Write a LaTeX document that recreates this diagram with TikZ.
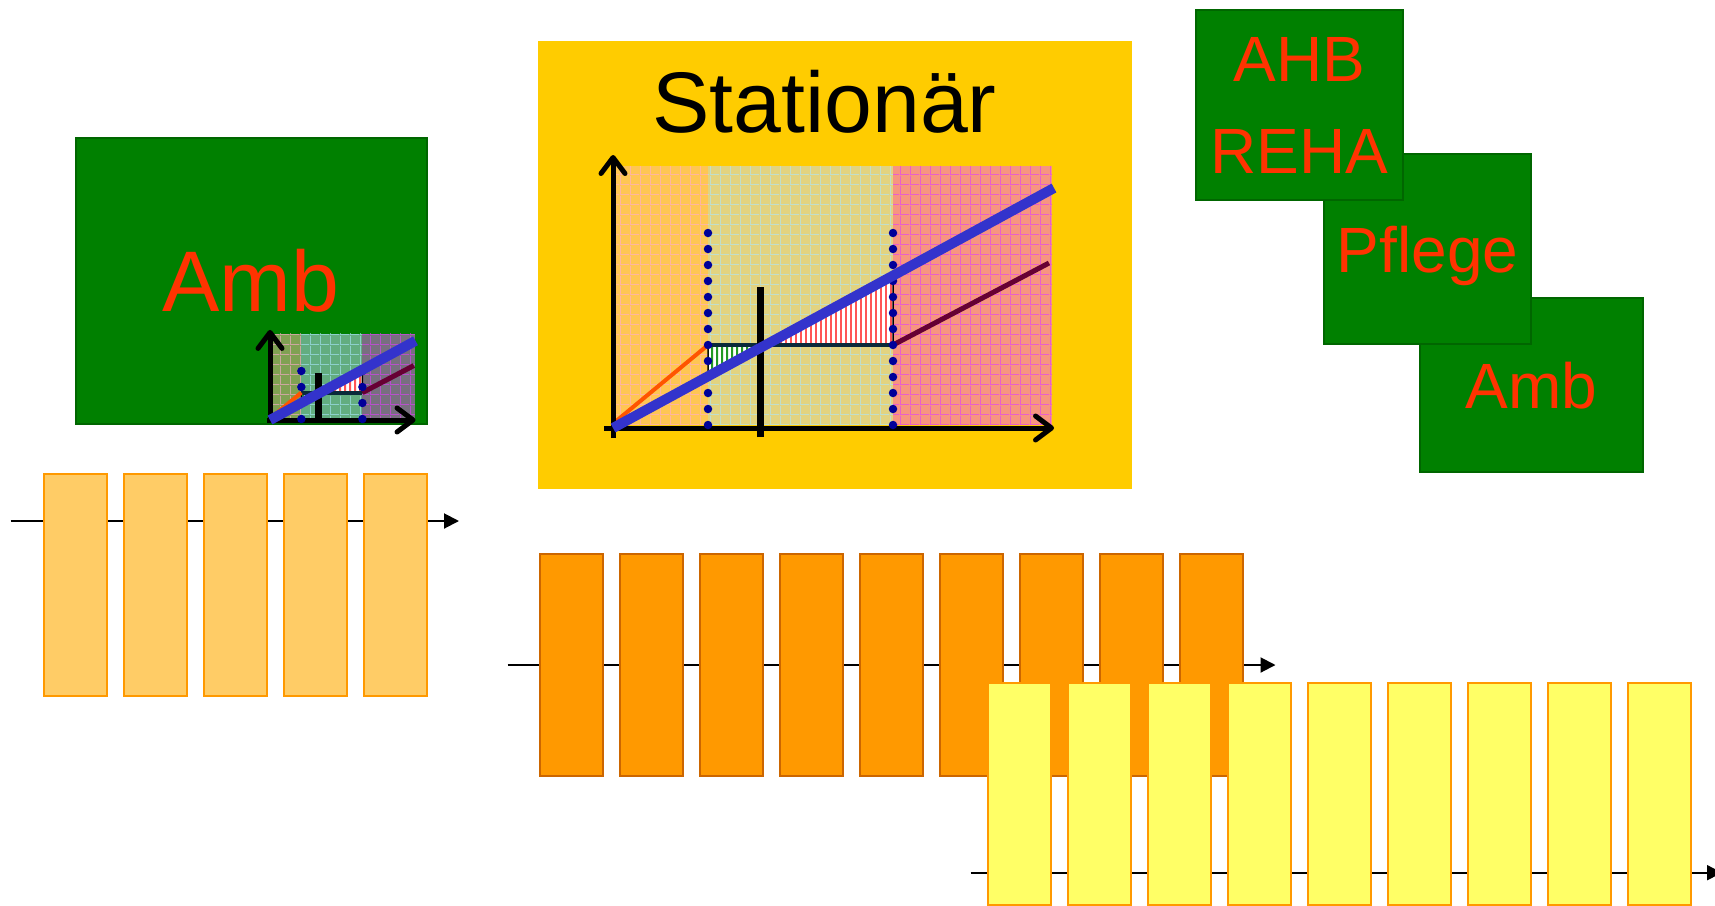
\documentclass[tikz,border=0pt]{standalone}
\usepackage{fontspec}
\setmainfont{Liberation Sans}
\usetikzlibrary{arrows.meta,patterns}

\definecolor{ambgreen}{HTML}{008000}
\definecolor{ambedge}{HTML}{006600}
\definecolor{ambred}{HTML}{FF3300}
\definecolor{statgold}{HTML}{FFCC00}
\definecolor{barlight}{HTML}{FFCC66}
\definecolor{barorange}{HTML}{FF9900}
\definecolor{bardark}{HTML}{CC6600}
\definecolor{baryellow}{HTML}{FFFF66}
\definecolor{regA}{RGB}{255,194,166}
\definecolor{regB}{RGB}{198,219,255}
\definecolor{regC}{RGB}{240,96,255}
\definecolor{gridA}{RGB}{255,170,210}
\definecolor{gridB}{RGB}{170,230,255}
\definecolor{gridC}{RGB}{225,60,255}
\definecolor{costblue}{HTML}{3333CC}
\definecolor{dotnavy}{HTML}{000099}
\definecolor{riseorange}{HTML}{FF5500}
\definecolor{flatline}{HTML}{0A2A3A}
\definecolor{dropmaroon}{HTML}{660033}
\definecolor{hatchred}{HTML}{FF5555}
\definecolor{hatchgreen}{HTML}{229922}

% fine grid and vertical hatch, fixed size (not scaled with the chart)
\pgfdeclarepatternformonly{bggrid}{\pgfqpoint{0pt}{0pt}}{\pgfqpoint{10pt}{10pt}}{\pgfqpoint{10pt}{10pt}}{%
  \pgfsetlinewidth{1pt}%
  \pgfpathmoveto{\pgfqpoint{0.5pt}{0pt}}\pgfpathlineto{\pgfqpoint{0.5pt}{10pt}}%
  \pgfpathmoveto{\pgfqpoint{0pt}{0.5pt}}\pgfpathlineto{\pgfqpoint{10pt}{0.5pt}}%
  \pgfusepath{stroke}}
\pgfdeclarepatternformonly{vhatch}{\pgfqpoint{0pt}{0pt}}{\pgfqpoint{4.5pt}{4.5pt}}{\pgfqpoint{4.5pt}{4.5pt}}{%
  \pgfsetlinewidth{2.2pt}%
  \pgfpathmoveto{\pgfqpoint{1.1pt}{-1pt}}\pgfpathlineto{\pgfqpoint{1.1pt}{5.5pt}}%
  \pgfusepath{stroke}}

\begin{document}
\begin{tikzpicture}[
        x=1pt, y=-1pt,
        gbox/.style={draw=ambedge, line width=2pt, fill=ambgreen, text=ambred,
                     align=center, inner sep=0pt},
        bar/.style={line width=2pt, minimum width=63pt, minimum height=222pt, inner sep=0pt},
        lbar/.style={bar, fill=barlight, draw=barorange},
        obar/.style={bar, fill=barorange, draw=bardark},
        ybar/.style={bar, fill=baryellow, draw=barorange},
        tl/.style={line width=2pt, -{Triangle[length=15pt,width=15pt]}},
        axis/.style={line width=5pt, -{Straight Barb[length=16pt,width=24pt,round]}},
        dots/.style={dotnavy, line width=8.5pt, line cap=round, dash pattern=on 0pt off 16pt},
        hatch/.style={draw=black, line width=1.5pt, fill=white,
                      postaction={pattern=vhatch, pattern color=#1}},
        chart/.pic={
            % ranges
            \fill[regA, fill opacity=0.5] (2,3) rectangle (95,262);
            \fill[regB, fill opacity=0.5] (95,3) rectangle (280,262);
            \fill[regC, fill opacity=0.5] (280,3) rectangle (439,262);
            \fill[pattern=bggrid, pattern color=gridA, fill opacity=0.6] (2,3) rectangle (95,262);
            \fill[pattern=bggrid, pattern color=gridB, fill opacity=0.6] (95,3) rectangle (280,262);
            \fill[pattern=bggrid, pattern color=gridC, fill opacity=0.6] (280,3) rectangle (439,262);
            % gaps
            \draw[hatch=hatchred] (152.5,83) -- (280,83) -- (280,152.4) -- cycle;
            \draw[hatch=hatchgreen] (95,83) -- (152.5,83) -- (95,51.7) -- cycle;
            \draw[flatline, line width=4pt] (95,83) -- (280,83);
            \draw[riseorange, line width=4pt] (2,6) -- (95,83);
            \draw[dropmaroon, line width=5pt] (280,83) -- (436,165);
            % axes
            \draw[axis] (0,-10) -- (0,273);
            \draw[axis] (-9,0) -- (441,0);
            \draw[line width=7pt] (147,-9) -- (147,141);
            \draw[dots] (95,3) -- (95,196);
            \draw[dots] (280,3) -- (280,196);
            \draw[costblue, line width=10pt] (0,0) -- (441,240);
        }
    ]
    \useasboundingbox (0,0) rectangle (1715,905);

    % ---- Amb (left) ----
    \node[gbox, minimum width=351pt, minimum height=286pt,
          font=\fontsize{86}{100}\selectfont] (amb) at (251,280.5) {Amb};
    \pic[scale=0.33, yscale=-1] (ambchart) at (270,420) {chart};

    \coordinate (lt0) at (10.7,521);
    \coordinate (lt1) at (459,521);
    \draw[tl] (lt0) -- (lt1);
    \foreach \i in {0,...,4}
        \node[lbar] (lb\i) at ({75.2+80*\i},585) {};

    % ---- Stationaer ----
    \node[fill=statgold, minimum width=594pt, minimum height=448.5pt, inner sep=0pt] (stat) at (835,264.75) {};
    \node[font=\fontsize{86}{100}\selectfont, anchor=base] (stattitle) at (824.5,132) {Stationär};
    \pic[yscale=-1] (statchart) at (613,428) {chart};

    % ---- AHB / Pflege / Amb ----
    \node[gbox, minimum width=223pt, minimum height=174pt, text depth=0pt,
          font=\fontsize{64}{92}\selectfont] (ambr) at (1531.5,385) {Amb};
    \node[gbox, minimum width=207pt, minimum height=190pt, text depth=0pt,
          font=\fontsize{64}{92}\selectfont] (pflege) at (1427.5,249) {Pflege};
    \node[gbox, minimum width=207pt, minimum height=190pt,
          font=\fontsize{64}{92}\selectfont] (ahb) at (1299.5,105) {AHB\\REHA};

    % ---- time lines ----
    \coordinate (mt0) at (507.6,665);
    \coordinate (mt1) at (1275.5,665);
    \draw[tl] (mt0) -- (mt1);
    \foreach \i in {0,...,8}
        \node[obar] (ob\i) at ({571.5+80*\i},665) {};

    \coordinate (yt0) at (970.6,872.7);
    \coordinate (yt1) at (1722,872.7);
    \draw[tl] (yt0) -- (yt1);
    \foreach \i in {0,...,8}
        \node[ybar] (yb\i) at ({1019.5+80*\i},794) {};
\end{tikzpicture}
\end{document}
